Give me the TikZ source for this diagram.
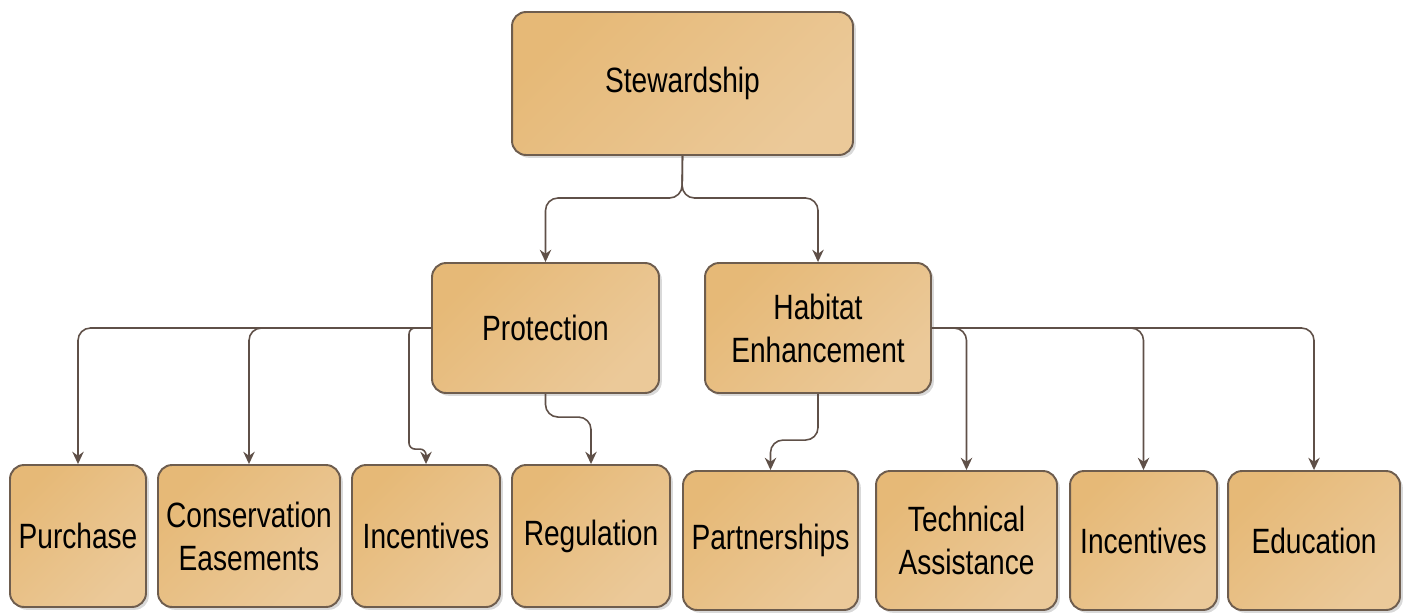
\documentclass[tikz,border=0pt]{standalone}
\usepackage{fontspec}
\setmainfont{Liberation Sans}[FakeStretch=0.8]
\usetikzlibrary{arrows.meta,calc,shadows}

\definecolor{boxtop}{HTML}{E6B977}
\definecolor{boxbot}{HTML}{EBC999}
\definecolor{boxline}{HTML}{6E5D4E}
\definecolor{linkcol}{HTML}{5F5048}

\begin{document}
\begin{tikzpicture}[x=0.02cm,y=-0.02cm,
   box/.style={draw=boxline,line width=1.1pt,rounded corners=0.28cm,
      top color=boxtop,bottom color=boxbot,shading angle=45,
      drop shadow={shadow xshift=1.6pt,shadow yshift=-1.6pt,opacity=0.3},
      align=center,inner sep=1pt,font=\fontsize{20}{24.5}\selectfont},
   link/.style={draw=linkcol,line width=0.9pt,rounded corners=0.25cm,
      -{Stealth[length=7pt,width=6.5pt]}},
   jog/.style={link,rounded corners=0.12cm}]
   \useasboundingbox (0,0) rectangle (1408,612);
   % top levels
   \path (682.5,83.5) node (stew) [box,minimum width=6.82cm,minimum height=2.86cm] {Stewardship}
         (545.5,328) node (prot) [box,minimum width=4.54cm,minimum height=2.6cm] {Protection}
         (818,328) node (habit) [box,minimum width=4.52cm,minimum height=2.6cm] {Habitat\\Enhancement};
   % bottom row
   \path (78,536) node (purch) [box,minimum width=2.72cm,minimum height=2.84cm] {Purchase}
         (249,536) node (cons) [box,minimum width=3.64cm,minimum height=2.84cm] {Conservation\\Easements}
         (426,536) node (inca) [box,minimum width=2.96cm,minimum height=2.84cm] {Incentives}
         (591,536) node (reg) [box,minimum width=3.16cm,minimum height=2.84cm] {Regulation}
         (770.5,540.5) node (part) [box,minimum width=3.5cm,minimum height=2.78cm] {Partnerships}
         (966.5,540.5) node (tech) [box,minimum width=3.62cm,minimum height=2.78cm] {Technical\\Assistance}
         (1143.5,540.5) node (incb) [box,minimum width=2.94cm,minimum height=2.78cm] {Incentives}
         (1314,540.5) node (edu) [box,minimum width=3.44cm,minimum height=2.78cm] {Education};
   \coordinate (split) at (682,198);
   \draw [link] (stew.south) -- (split) -| (prot.north);
   \draw [link] (stew.south) -- (split) -| (habit.north);
   % protection
   \draw [link] (prot.west) -| (purch.north);
   \draw [link] (prot.west) -| (cons.north);
   \draw [jog] (prot.west) -| ($(inca.north)+(-17,-15)$) -| (inca.north);
   \draw [link] (prot.south) |- ($(reg.north)+(0,-47)$) -- (reg.north);
   % habitat enhancement
   \draw [link] (habit.south) |- ($(part.north)+(0,-30)$) -- (part.north);
   \draw [link] (habit.east) -| (tech.north);
   \draw [link] (habit.east) -| (incb.north);
   \draw [link] (habit.east) -| (edu.north);
\end{tikzpicture}
\end{document}
